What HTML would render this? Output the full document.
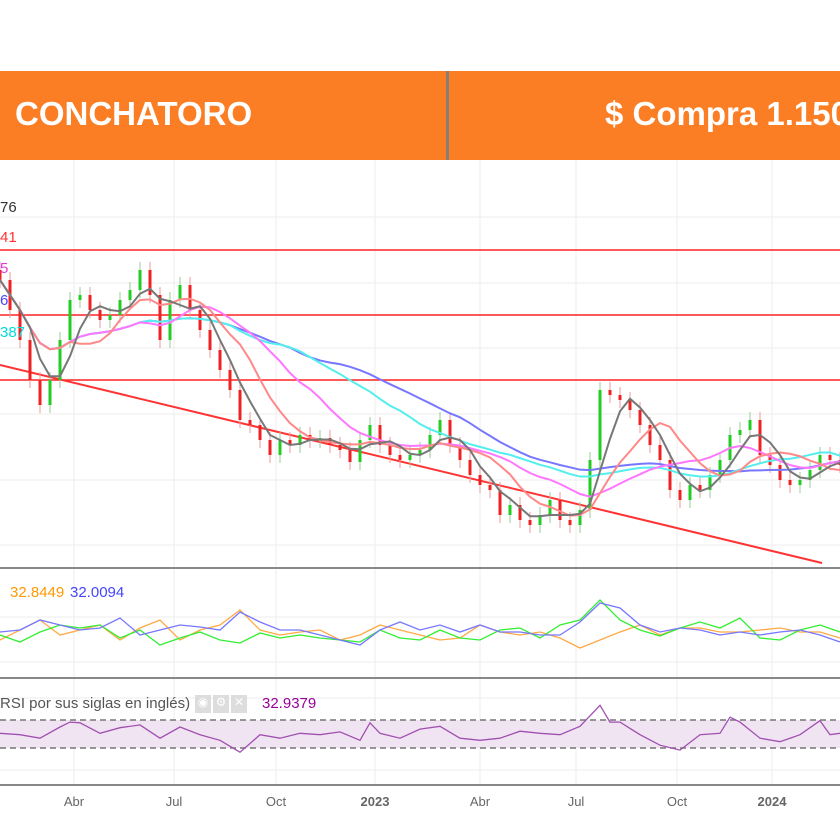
<!DOCTYPE html>
<html><head><meta charset="utf-8"><style>
body{margin:0;width:840px;height:840px;overflow:hidden;background:#fff;font-family:"Liberation Sans",sans-serif;position:relative}
.hdr{position:absolute;left:0;top:71px;width:840px;height:89px;background:#fb7e25}
.hdr .t{position:absolute;top:24px;color:#fff;font-weight:bold;font-size:33px;font-family:"Liberation Sans",sans-serif}
.div{position:absolute;left:446px;top:0;width:3px;height:89px;background:#8a7d75}
.lbl{position:absolute;font-size:15px}
svg{position:absolute;left:0;top:0}
</style></head><body>
<svg id="chart" width="840" height="840"></svg>
<div class="hdr">
 <div class="t" style="left:15px">CONCHATORO</div>
 <div class="div"></div>
 <div class="t" style="left:605px;white-space:nowrap">$ Compra 1.150</div>
</div>
<div class="lbl" style="left:0;top:199px;color:#333">76</div>
<div class="lbl" style="left:0;top:229px;color:#f33">41</div>
<div class="lbl" style="left:0;top:260px;color:#e040e0">5</div>
<div class="lbl" style="left:0;top:292px;color:#44f">6</div>
<div class="lbl" style="left:0;top:324px;color:#0dd">387</div>
<div class="lbl" style="left:10px;top:584px;color:#f90">32.8449</div>
<div class="lbl" style="left:70px;top:584px;color:#44f">32.0094</div>
<div class="lbl" style="left:0;top:695px;color:#555">RSI por sus siglas en inglés) <span style="color:#bbb;font-size:11px">▼</span></div>
<div style="position:absolute;left:195px;top:695px;display:flex;gap:2px">
 <div style="width:16px;height:18px;background:#ddd;color:#fff;font-size:12px;text-align:center">◉</div>
 <div style="width:16px;height:18px;background:#ddd;color:#fff;font-size:12px;text-align:center">⚙</div>
 <div style="width:16px;height:18px;background:#ddd;color:#fff;font-size:12px;text-align:center">✕</div>
</div>
<div class="lbl" style="left:262px;top:695px;color:#909">32.9379</div>
<script>
// ---- data ----
const monthLabels=["Abr","Jul","Oct","2023","Abr","Jul","Oct","2024"];
const monthX=[74,174,276,375,480,576,677,772];
const levels=[1650,1585,1520];
const closes=[1620,1590,1560,1520,1495,1520,1560,1600,1605,1590,1580,1585,1600,1610,1630,1605,1560,1600,1615,1590,1570,1550,1530,1510,1480,1475,1460,1445,1460,1455,1465,1460,1462,1455,1450,1438,1460,1475,1455,1445,1440,1445,1450,1465,1480,1455,1440,1425,1415,1410,1385,1395,1380,1375,1385,1400,1380,1375,1390,1440,1510,1505,1500,1490,1475,1455,1440,1410,1400,1415,1410,1425,1440,1465,1470,1480,1445,1435,1420,1415,1420,1430,1445,1440,1435];
const adxPlus=[25,18,28,35,32,35,22,30,15,22,28,20,17,27,22,25,22,20,18,30,22,20,30,22,20,30,32,22,35,40,60,40,30,24,32,38,32,42,22,20,30,35,28];
const adxMinus=[20,30,40,25,30,35,20,32,40,20,30,35,50,30,25,28,30,20,25,35,30,25,20,22,35,28,25,28,22,12,20,28,35,25,32,32,28,28,30,32,28,28,22];
const adxLine=[28,30,40,35,30,32,42,25,30,35,33,30,48,38,30,30,25,20,15,30,38,30,35,28,35,28,28,25,25,38,57,52,35,28,32,30,25,28,25,28,30,25,18];
const rsiVals=[51,49,44,60,67,66,51,59,63,44,60,49,41,24,49,44,51,49,53,41,66,51,44,57,61,44,41,44,54,51,49,61,91,67,67,49,34,27,49,51,74,67,44,39,44,49,69,49,51];
const rsiX=[0,20,40,60,70,80,100,120,140,160,180,200,220,240,260,280,300,320,340,360,370,380,400,420,440,460,480,500,520,540,560,580,600,610,620,640,660,680,700,720,730,740,760,780,790,800,820,830,840];
// ---- scales ----
const NS="http://www.w3.org/2000/svg";
const svg=document.getElementById('chart');
const px=i=>i*10;
const py=v=>1900-v;
const ax=i=>i*20;
const ay=v=>660-v;
const ry=v=>748-(v-30)*0.7;
function mk(t,a){const e=document.createElementNS(NS,t);for(const k in a)e.setAttribute(k,a[k]);svg.appendChild(e);return e;}
[217,283,348,414,480,545,617,662,698,770].forEach(y=>{const l=mk('line',{x1:0,x2:840,y1:y,y2:y,stroke:'#eee','stroke-width':1});

});
monthX.forEach((x,i)=>{const l=mk('line',{x1:x,x2:x,y1:160,y2:785,stroke:'#eee','stroke-width':1});


const t=mk('text',{x:x,y:806,'text-anchor':'middle','font-size':13,fill:'#666','font-weight':monthLabels[i].length==4?'bold':'normal','font-family':'Liberation Sans, sans-serif'});t.textContent=monthLabels[i];

});
[568,678,785].forEach(y=>{const l=mk('line',{x1:0,x2:840,y1:y,y2:y,stroke:'#888','stroke-width':2});

});
levels.forEach(v=>{const l=mk('line',{x1:0,x2:840,y1:py(v),y2:py(v),stroke:'#f22','stroke-width':1.5});

});
const tl=mk('line',{x1:0,y1:365,x2:822,y2:563,stroke:'#f33','stroke-width':2});


function sma(n){return closes.map((c,i)=>{const s=closes.slice(Math.max(0,i-n+1),i+1);return s.reduce((a,b)=>a+b,0)/s.length;});}
function poly(vals,xf,yf,col,w,name){const p=mk('polyline',{points:vals.map((v,i)=>xf(i)+','+yf(v)).join(' '),fill:'none',stroke:col,'stroke-width':w});

return p;}
closes.forEach((c,i)=>{const o=i?closes[i-1]:c+10;const up=c>=o;const x=px(i);const hi=Math.max(o,c)+8,lo=Math.min(o,c)-8;
const w=mk('line',{x1:x,x2:x,y1:py(hi),y2:py(lo),stroke:up?'#9c9':'#e99','stroke-width':1});


const r=mk('rect',{x:x-1.5,y:py(Math.max(o,c)),width:3,height:Math.max(1,Math.abs(c-o)),fill:up?'#2c2':'#e22'});

});
poly(sma(30),px,py,'#77f',2,'ma-200');
poly(sma(24),px,py,'#5ee',2,'ma-150');
poly(sma(15),px,py,'#f7f',2,'ma-100');
poly(sma(8),px,py,'#f88',2,'ma-50');
poly(sma(4),px,py,'#777',2,'ma-20');
poly(adxMinus,ax,ay,'#fa4',1.3,'dmi-minus-line');
poly(adxPlus,ax,ay,'#3e3',1.3,'dmi-plus-line');
poly(adxLine,ax,ay,'#77f',1.3,'adx-line');
const band=mk('rect',{x:0,y:ry(70),width:840,height:ry(30)-ry(70),fill:'#f0e4f2'});


[70,30].forEach(v=>{const l=mk('line',{x1:0,x2:840,y1:ry(v),y2:ry(v),stroke:'#777','stroke-width':1.5,'stroke-dasharray':'6,4'});

});
poly(rsiVals,i=>rsiX[i],ry,'#a050b0',1.3,'rsi-line');
</script>
</body></html>
